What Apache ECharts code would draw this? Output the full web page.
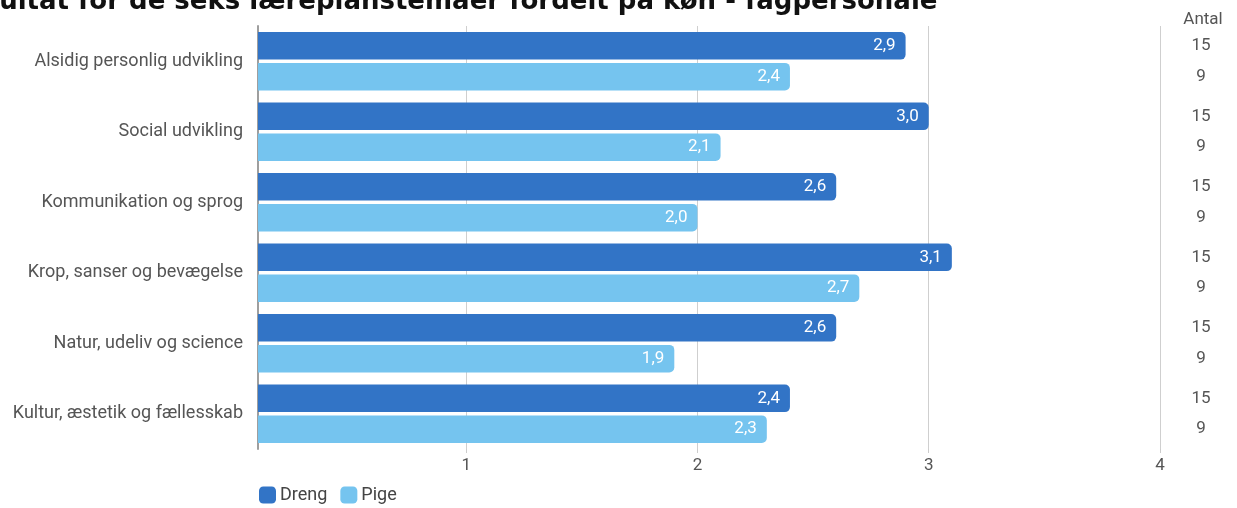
<!DOCTYPE html>
<html>
<head>
<meta charset="utf-8">
<script src="https://cdn.jsdelivr.net/npm/echarts@6/dist/echarts.min.js"></script>
<style>
html,body{margin:0;padding:0;background:#fff;}
#chart{width:1237px;height:508px;}
</style>
</head>
<body>
<div id="chart"></div>
<script>
const titleText = 'Resultat for de seks læreplanstemaer fordelt på køn - fagpersonale';
const categories = ['Alsidig personlig udvikling','Social udvikling','Kommunikation og sprog','Krop, sanser og bevægelse','Natur, udeliv og science','Kultur, æstetik og fællesskab'];
const drengValues = [2.9, 3.0, 2.6, 3.1, 2.6, 2.4];
const pigeValues = [2.4, 2.1, 2.0, 2.7, 1.9, 2.3];
const drengCounts = [15, 15, 15, 15, 15, 15];
const pigeCounts = [9, 9, 9, 9, 9, 9];
const xTicks = [1, 2, 3, 4];
const countHeader = 'Antal';

const FONT = 'Roboto';
const DARK = '#3274c6';
const LIGHT = '#75c4ef';
const fmt = v => v.toFixed(1).replace('.', ',');
const GRID_TOP = 26, GRID_BOTTOM = 59;
const BAR_W = 27.5, BAR_GAP = '12%';

const chart = echarts.init(document.getElementById('chart'), null, {renderer: 'canvas'});
const valueLabel = {
  show: true, position: 'insideRight', distance: 10,
  color: '#fff', fontFamily: FONT, fontSize: 17,
  formatter: p => fmt(p.value)
};
const countLabel = arr => ({
  show: true, position: [20, '50%'], align: 'center', verticalAlign: 'middle',
  color: '#555', fontFamily: FONT, fontSize: 17, padding: [2, 0, 0, 0],
  formatter: p => String(arr[p.dataIndex])
});

chart.setOption({
  animation: false,
  backgroundColor: '#fff',
  graphic: [
    {type: 'text', left: -54, top: -11, style: {text: titleText, font: 'bold 26px "DejaVu Sans"', fill: '#111'}},
    {type: 'text', x: 1203, y: 20, style: {text: countHeader, font: '17px Roboto', fill: '#555', align: 'center', verticalAlign: 'middle'}}
  ],
  legend: {
    left: 254, top: 481, itemWidth: 17, itemHeight: 17, itemGap: 13,
    icon: 'roundRect',
    textStyle: {fontFamily: FONT, fontSize: 18, color: '#444', padding: [0, 0, 0, -1]},
    data: ['Dreng', 'Pige']
  },
  grid: [
    {left: 258, right: 77, top: GRID_TOP, bottom: GRID_BOTTOM, containLabel: false},
    {left: 1181, width: 40, top: GRID_TOP, bottom: GRID_BOTTOM, containLabel: false}
  ],
  xAxis: [
    {
      type: 'value', gridIndex: 0, min: 0.1, max: 4,
      axisLine: {show: false},
      axisTick: {show: true, customValues: xTicks, length: 4, lineStyle: {color: '#ccc'}},
      axisLabel: {customValues: xTicks, fontFamily: FONT, fontSize: 17, color: '#555', margin: 8},
      splitLine: {show: true, lineStyle: {color: '#cfcfcf', width: 1}}
    },
    {type: 'value', gridIndex: 1, min: 0, max: 1000, show: false}
  ],
  yAxis: [
    {
      type: 'category', gridIndex: 0, data: categories, inverse: true,
      axisLine: {show: true, lineStyle: {color: '#9e9e9e', width: 2}},
      axisTick: {show: false},
      axisLabel: {fontFamily: FONT, fontSize: 18, color: '#555', margin: 15, padding: [4, 0, 0, 0]}
    },
    {type: 'category', gridIndex: 1, data: categories, inverse: true, show: false}
  ],
  series: [
    {name: 'Dreng', type: 'bar', xAxisIndex: 0, yAxisIndex: 0, data: drengValues,
     barWidth: BAR_W, barGap: BAR_GAP, itemStyle: {color: DARK, borderRadius: [0, 5, 5, 0]}, label: valueLabel},
    {name: 'Pige', type: 'bar', xAxisIndex: 0, yAxisIndex: 0, data: pigeValues,
     barWidth: BAR_W, barGap: BAR_GAP, itemStyle: {color: LIGHT, borderRadius: [0, 5, 5, 0]}, label: valueLabel},
    {name: 'DrengAntal', type: 'bar', xAxisIndex: 1, yAxisIndex: 1, data: drengCounts, silent: true,
     barWidth: BAR_W, barGap: BAR_GAP, itemStyle: {color: 'rgba(0,0,0,0)'}, label: countLabel(drengCounts)},
    {name: 'PigeAntal', type: 'bar', xAxisIndex: 1, yAxisIndex: 1, data: pigeCounts, silent: true,
     barWidth: BAR_W, barGap: BAR_GAP, itemStyle: {color: 'rgba(0,0,0,0)'}, label: countLabel(pigeCounts)}
  ]
});
</script>
</body>
</html>
